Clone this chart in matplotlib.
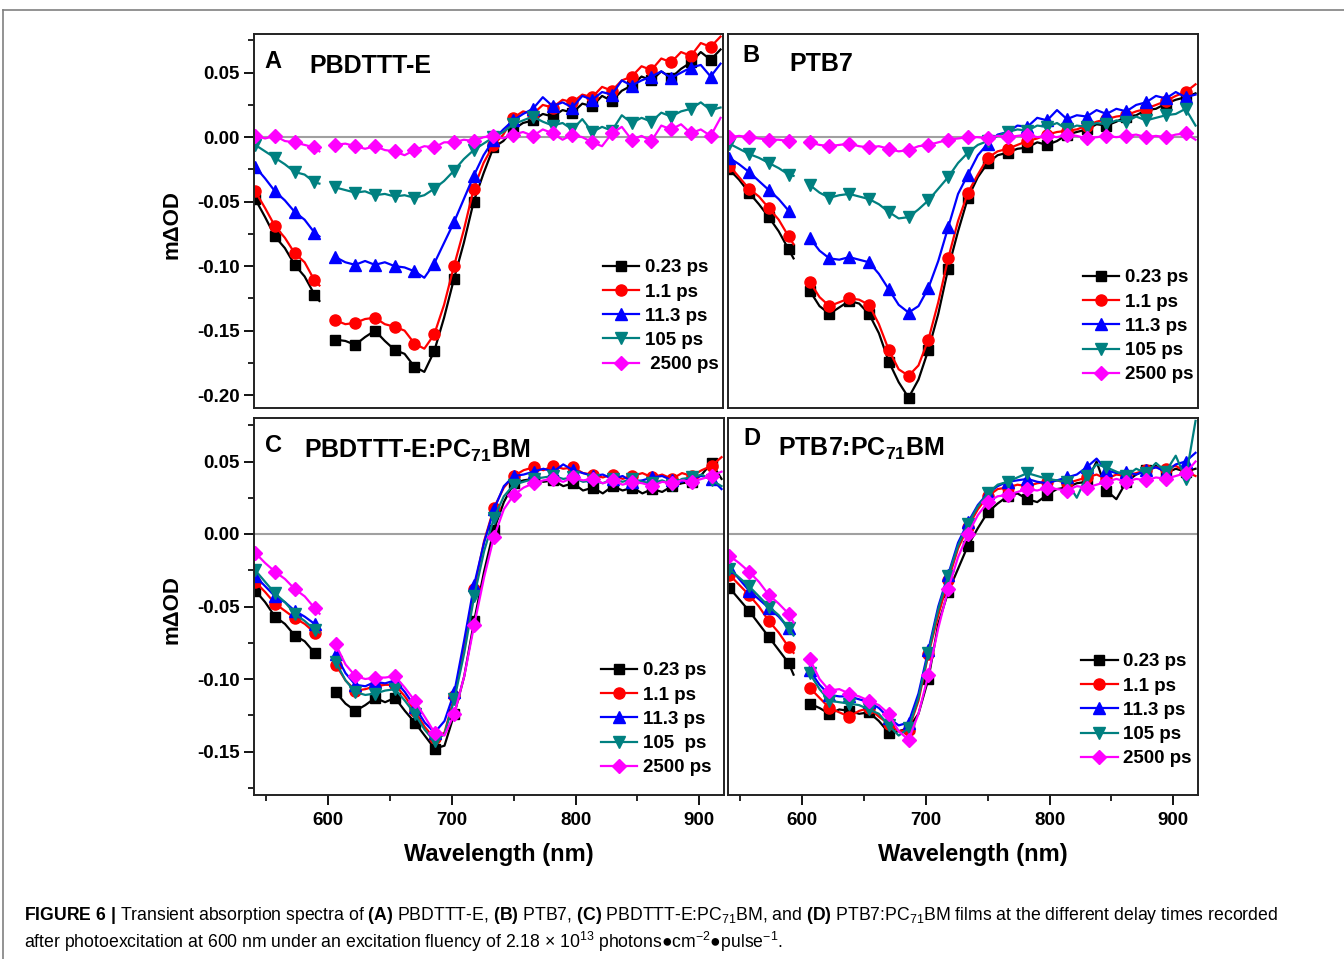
import matplotlib.pyplot as plt
from matplotlib.lines import Line2D
from matplotlib.ticker import MultipleLocator, FormatStrFormatter

plt.rcParams['font.family'] = ['Liberation Sans', 'DejaVu Sans']
plt.rcParams['font.weight'] = 'bold'
plt.rcParams['axes.unicode_minus'] = False
plt.rcParams['mathtext.fontset'] = 'custom'
plt.rcParams['mathtext.rm'] = 'Liberation Sans:regular'
plt.rcParams['mathtext.it'] = 'Liberation Sans:italic:regular'
plt.rcParams['mathtext.bf'] = 'Liberation Sans:bold'

#%% data, wavelength in nm, signal in mOD
wavelength = [541, 549, 557, 565, 573, 581, 589, 593,
              606, 614, 622, 630, 638, 646, 654, 662, 670, 678,
              686, 694, 702, 710, 718, 726, 734, 742, 750, 758,
              766, 774, 782, 790, 798, 806, 814, 822, 830, 838,
              846, 854, 862, 870, 878, 886, 894, 902, 910, 918]
n_first = 8  # points before the pump scatter gap at 600 nm

delays = ['0.23 ps', '1.1 ps', '11.3 ps', '105 ps', '2500 ps']

# (A) PBDTTT-E
a_023 = [-0.048, -0.062, -0.077, -0.086, -0.099, -0.108, -0.122, -0.127,
         -0.157, -0.158, -0.161, -0.155, -0.150, -0.158, -0.165, -0.168, -0.178, -0.182,
         -0.166, -0.140, -0.110, -0.082, -0.050, -0.028, -0.008, -0.003, 0.006, 0.011,
         0.013, 0.018, 0.016, 0.021, 0.019, 0.026, 0.024, 0.032, 0.028, 0.036,
         0.040, 0.047, 0.044, 0.051, 0.046, 0.053, 0.058, 0.066, 0.060, 0.068]
a_11 = [-0.042, -0.055, -0.069, -0.078, -0.090, -0.097, -0.111, -0.115,
        -0.142, -0.145, -0.144, -0.141, -0.140, -0.145, -0.147, -0.150, -0.160, -0.164,
        -0.153, -0.130, -0.100, -0.072, -0.040, -0.020, -0.006, 0.002, 0.015, 0.020,
        0.018, 0.025, 0.023, 0.029, 0.027, 0.033, 0.031, 0.039, 0.036, 0.044,
        0.047, 0.055, 0.052, 0.061, 0.058, 0.066, 0.063, 0.073, 0.070, 0.078]
a_113 = [-0.023, -0.032, -0.042, -0.049, -0.058, -0.064, -0.074, -0.077,
         -0.093, -0.097, -0.099, -0.096, -0.099, -0.097, -0.100, -0.101, -0.104, -0.109,
         -0.098, -0.082, -0.066, -0.048, -0.030, -0.014, -0.002, 0.006, 0.013, 0.018,
         0.022, 0.031, 0.024, 0.027, 0.023, 0.032, 0.029, 0.035, 0.033, 0.044,
         0.040, 0.044, 0.047, 0.051, 0.046, 0.050, 0.054, 0.056, 0.047, 0.057]
a_105 = [-0.006, -0.011, -0.016, -0.021, -0.027, -0.029, -0.035, -0.036,
         -0.039, -0.041, -0.043, -0.042, -0.045, -0.044, -0.046, -0.045, -0.047, -0.045,
         -0.040, -0.034, -0.026, -0.017, -0.010, -0.005, 0.000, 0.004, 0.010, 0.013,
         0.016, 0.012, 0.009, 0.011, 0.006, 0.014, 0.004, 0.008, 0.005, 0.017,
         0.011, 0.015, 0.012, 0.019, 0.016, 0.020, 0.022, 0.027, 0.021, 0.023]
a_2500 = [0.001, -0.001, 0.001, -0.003, -0.004, -0.006, -0.008, -0.011,
          -0.006, -0.005, -0.007, -0.009, -0.007, -0.010, -0.011, -0.014, -0.010, -0.007,
          -0.008, -0.004, -0.004, -0.002, -0.003, 0.000, 0.001, -0.001, 0.002, 0.004,
          0.001, 0.006, 0.003, -0.002, 0.002, 0.000, -0.004, -0.007, 0.003, 0.008,
          -0.002, 0.001, -0.003, 0.009, 0.006, 0.010, 0.003, 0.006, 0.001, 0.015]

# (B) PTB7
b_023 = [-0.025, -0.033, -0.043, -0.052, -0.062, -0.073, -0.087, -0.094,
         -0.119, -0.131, -0.137, -0.132, -0.127, -0.129, -0.137, -0.152, -0.174, -0.190,
         -0.202, -0.188, -0.165, -0.137, -0.102, -0.073, -0.047, -0.031, -0.020, -0.014,
         -0.012, -0.009, -0.008, -0.004, -0.006, -0.003, 0.002, 0.004, 0.006, 0.010,
         0.009, 0.012, 0.016, 0.017, 0.021, 0.022, 0.026, 0.029, 0.031, 0.034]
b_11 = [-0.022, -0.031, -0.040, -0.046, -0.055, -0.064, -0.077, -0.083,
        -0.112, -0.124, -0.131, -0.128, -0.125, -0.126, -0.130, -0.145, -0.165, -0.180,
        -0.185, -0.177, -0.157, -0.128, -0.094, -0.065, -0.043, -0.029, -0.016, -0.011,
        -0.009, -0.006, -0.003, -0.001, 0.002, 0.004, 0.005, 0.006, 0.009, 0.012,
        0.014, 0.016, 0.017, 0.020, 0.022, 0.025, 0.028, 0.032, 0.035, 0.041]
b_113 = [-0.016, -0.021, -0.027, -0.034, -0.041, -0.048, -0.057, -0.061,
         -0.078, -0.088, -0.094, -0.095, -0.093, -0.095, -0.097, -0.106, -0.118, -0.130,
         -0.136, -0.131, -0.117, -0.096, -0.070, -0.044, -0.029, -0.014, -0.005, 0.002,
         0.004, 0.009, 0.008, 0.015, 0.013, 0.021, 0.014, 0.017, 0.016, 0.021,
         0.018, 0.022, 0.020, 0.025, 0.027, 0.032, 0.030, 0.035, 0.031, 0.033]
b_105 = [-0.005, -0.009, -0.013, -0.016, -0.020, -0.024, -0.029, -0.030,
         -0.037, -0.043, -0.047, -0.045, -0.044, -0.046, -0.048, -0.052, -0.058, -0.063,
         -0.062, -0.056, -0.049, -0.040, -0.031, -0.020, -0.012, -0.006, -0.003, 0.001,
         0.004, 0.006, 0.005, 0.009, 0.008, 0.011, 0.006, 0.009, 0.008, 0.011,
         0.010, 0.013, 0.012, 0.016, 0.013, 0.015, 0.017, 0.018, 0.022, 0.009]
b_2500 = [0.000, 0.001, 0.000, -0.001, -0.002, -0.002, -0.003, -0.003,
          -0.004, -0.006, -0.007, -0.006, -0.005, -0.007, -0.008, -0.007, -0.009, -0.011,
          -0.010, -0.007, -0.006, -0.004, -0.002, -0.001, 0.000, 0.000, -0.001, 0.001,
          0.000, 0.001, 0.002, 0.000, 0.001, 0.000, 0.002, 0.001, -0.001, 0.000,
          0.001, 0.000, 0.001, 0.002, 0.000, 0.001, 0.000, 0.002, 0.003, -0.002]

# (C) PBDTTT-E:PC71BM
c_023 = [-0.039, -0.047, -0.057, -0.062, -0.070, -0.074, -0.082, -0.085,
         -0.109, -0.117, -0.122, -0.118, -0.113, -0.116, -0.113, -0.122, -0.130, -0.139,
         -0.148, -0.146, -0.124, -0.098, -0.060, -0.026, 0.003, 0.022, 0.035, 0.037,
         0.038, 0.036, 0.037, 0.033, 0.035, 0.030, 0.032, 0.028, 0.033, 0.030,
         0.032, 0.028, 0.031, 0.029, 0.033, 0.035, 0.036, 0.041, 0.049, 0.038]
c_11 = [-0.033, -0.040, -0.048, -0.053, -0.058, -0.062, -0.068, -0.070,
        -0.090, -0.101, -0.108, -0.107, -0.105, -0.104, -0.104, -0.112, -0.122, -0.133,
        -0.141, -0.137, -0.112, -0.078, -0.038, -0.005, 0.018, 0.032, 0.040, 0.044,
        0.046, 0.044, 0.047, 0.045, 0.046, 0.042, 0.041, 0.039, 0.041, 0.038,
        0.040, 0.042, 0.039, 0.041, 0.038, 0.042, 0.040, 0.044, 0.047, 0.053]
c_113 = [-0.029, -0.036, -0.043, -0.047, -0.053, -0.057, -0.062, -0.066,
         -0.083, -0.096, -0.104, -0.105, -0.102, -0.103, -0.101, -0.109, -0.119, -0.130,
         -0.137, -0.129, -0.109, -0.073, -0.035, -0.006, 0.017, 0.033, 0.040, 0.041,
         0.043, 0.045, 0.043, 0.048, 0.044, 0.042, 0.040, 0.041, 0.038, 0.040,
         0.036, 0.037, 0.039, 0.040, 0.037, 0.036, 0.039, 0.040, 0.038, 0.031]
c_105 = [-0.025, -0.033, -0.041, -0.047, -0.055, -0.060, -0.066, -0.068,
         -0.088, -0.101, -0.109, -0.111, -0.110, -0.108, -0.107, -0.115, -0.124, -0.135,
         -0.143, -0.138, -0.114, -0.082, -0.043, -0.012, 0.011, 0.026, 0.034, 0.036,
         0.038, 0.039, 0.040, 0.038, 0.039, 0.036, 0.037, 0.035, 0.038, 0.036,
         0.038, 0.036, 0.035, 0.037, 0.034, 0.038, 0.039, 0.041, 0.037, 0.033]
c_2500 = [-0.013, -0.020, -0.026, -0.031, -0.038, -0.043, -0.051, -0.055,
          -0.076, -0.090, -0.098, -0.100, -0.099, -0.099, -0.098, -0.106, -0.115, -0.126,
          -0.137, -0.139, -0.124, -0.098, -0.063, -0.030, -0.002, 0.017, 0.027, 0.032,
          0.035, 0.037, 0.038, 0.036, 0.039, 0.037, 0.038, 0.035, 0.037, 0.034,
          0.036, 0.035, 0.033, 0.036, 0.035, 0.037, 0.036, 0.038, 0.040, 0.043]

# (D) PTB7:PC71BM
d_023 = [-0.037, -0.045, -0.053, -0.062, -0.071, -0.080, -0.089, -0.097,
         -0.117, -0.120, -0.124, -0.121, -0.122, -0.124, -0.123, -0.129, -0.137, -0.136,
         -0.134, -0.124, -0.100, -0.062, -0.040, -0.024, -0.008, 0.004, 0.015, 0.021,
         0.026, 0.028, 0.024, 0.022, 0.027, 0.031, 0.032, 0.035, 0.036, 0.050,
         0.030, 0.024, 0.036, 0.041, 0.044, 0.047, 0.042, 0.045, 0.043, 0.045]
d_11 = [-0.028, -0.035, -0.042, -0.050, -0.060, -0.068, -0.078, -0.082,
        -0.106, -0.113, -0.120, -0.123, -0.126, -0.122, -0.120, -0.126, -0.131, -0.136,
        -0.135, -0.115, -0.083, -0.056, -0.032, -0.010, 0.005, 0.017, 0.026, 0.031,
        0.032, 0.034, 0.033, 0.035, 0.036, 0.037, 0.035, 0.037, 0.039, 0.041,
        0.038, 0.041, 0.040, 0.042, 0.044, 0.046, 0.045, 0.047, 0.043, 0.040]
d_113 = [-0.023, -0.031, -0.039, -0.045, -0.051, -0.057, -0.065, -0.069,
         -0.094, -0.104, -0.111, -0.112, -0.112, -0.114, -0.116, -0.120, -0.127, -0.132,
         -0.130, -0.110, -0.080, -0.050, -0.028, -0.006, 0.008, 0.020, 0.028, 0.033,
         0.036, 0.037, 0.038, 0.036, 0.035, 0.037, 0.039, 0.041, 0.046, 0.052,
         0.044, 0.042, 0.043, 0.041, 0.044, 0.046, 0.043, 0.048, 0.050, 0.056]
d_105 = [-0.024, -0.030, -0.036, -0.043, -0.050, -0.056, -0.065, -0.070,
         -0.096, -0.107, -0.115, -0.116, -0.117, -0.118, -0.121, -0.124, -0.132, -0.139,
         -0.134, -0.113, -0.082, -0.052, -0.029, -0.008, 0.007, 0.019, 0.028, 0.034,
         0.036, 0.039, 0.042, 0.040, 0.038, 0.037, 0.036, 0.025, 0.040, 0.048,
         0.046, 0.043, 0.040, 0.045, 0.042, 0.049, 0.043, 0.054, 0.038, 0.078]
d_2500 = [-0.015, -0.020, -0.026, -0.033, -0.042, -0.048, -0.055, -0.061,
          -0.086, -0.100, -0.108, -0.107, -0.110, -0.112, -0.115, -0.118, -0.124, -0.136,
          -0.142, -0.124, -0.097, -0.065, -0.038, -0.016, 0.000, 0.013, 0.022, 0.026,
          0.027, 0.029, 0.031, 0.030, 0.032, 0.031, 0.030, 0.033, 0.032, 0.034,
          0.036, 0.038, 0.036, 0.038, 0.037, 0.039, 0.038, 0.040, 0.042, 0.050]

#%% styling
colors = ['black', 'red', 'blue', '#008080', 'magenta']
markers = ['s', 'o', '^', 'v', 'D']
msizes = [7, 8, 8, 8, 7]

W, H = 1344, 959
fig = plt.figure(figsize=(W / 100, H / 100), dpi=100)

def px_box(left, top, right, bottom):
    return [left / W, 1 - bottom / H, (right - left) / W, (bottom - top) / H]

panels = [
    dict(box=px_box(254, 34, 723, 408), series=[a_023, a_11, a_113, a_105, a_2500],
         ylim=(-0.21, 0.08), letter='A', letter_xy=(0.023, 0.909),
         name='PBDTTT-E', name_xy=(0.119, 0.896),
         labels=['0.23 ps', '1.1 ps', '11.3 ps', '105 ps', ' 2500 ps'], leg_xy=(0.744, 0.398),
         bottom=False, left=True),
    dict(box=px_box(728, 34, 1198, 408), series=[b_023, b_11, b_113, b_105, b_2500],
         ylim=(-0.21, 0.08), letter='B', letter_xy=(0.030, 0.925),
         name='PTB7', name_xy=(0.130, 0.902),
         labels=delays, leg_xy=(0.755, 0.371), bottom=False, left=False),
    dict(box=px_box(254, 418, 724, 795), series=[c_023, c_11, c_113, c_105, c_2500],
         ylim=(-0.18, 0.08), letter='C', letter_xy=(0.023, 0.911),
         name=r'PBDTTT-E:PC$_{\mathbf{71}}$BM', name_xy=(0.106, 0.894),
         labels=['0.23 ps', '1.1 ps', '11.3 ps', '105  ps', '2500 ps'], leg_xy=(0.738, 0.352),
         bottom=True, left=True),
    dict(box=px_box(728, 418, 1198, 795), series=[d_023, d_11, d_113, d_105, d_2500],
         ylim=(-0.18, 0.08), letter='D', letter_xy=(0.032, 0.928),
         name=r'PTB7:PC$_{\mathbf{71}}$BM', name_xy=(0.106, 0.899),
         labels=delays, leg_xy=(0.751, 0.376), bottom=True, left=False),
]

for p in panels:
    ax = fig.add_axes(p['box'])
    ax.axhline(0, color='#a0a0a0', lw=1.5, zorder=1)
    for vals, c, m, ms in zip(p['series'], colors, markers, msizes):
        for sl in (slice(0, n_first), slice(n_first, None)):
            ax.plot(wavelength[sl], vals[sl], color=c, lw=1.6, marker=m, ms=ms,
                    markevery=2, zorder=2)
    handles = [Line2D([], [], color=c, marker=m, lw=1.6, ms=ms)
               for c, m, ms in zip(colors, markers, msizes)]
    ax.legend(handles, p['labels'], loc='upper left', bbox_to_anchor=p['leg_xy'],
              frameon=False, prop={'size': 13.5, 'weight': 'bold'}, handlelength=1.95,
              handletextpad=0.3, labelspacing=0.38, borderpad=0, borderaxespad=0)

    ax.set_xlim(540, 920)
    ax.set_ylim(*p['ylim'])
    ax.xaxis.set_major_locator(MultipleLocator(100))
    ax.xaxis.set_minor_locator(MultipleLocator(50))
    ax.yaxis.set_major_locator(MultipleLocator(0.05))
    ax.yaxis.set_minor_locator(MultipleLocator(0.025))
    ax.yaxis.set_major_formatter(FormatStrFormatter('%.2f'))
    ax.tick_params(which='major', direction='out', length=7, width=1.3, labelsize=13.5)
    ax.tick_params(axis='x', which='major', pad=5)
    ax.tick_params(which='minor', direction='out', length=4.5, width=1.2)
    if not p['bottom']:
        ax.tick_params(axis='x', which='both', bottom=False, labelbottom=False)
    if not p['left']:
        ax.tick_params(axis='y', which='both', left=False, labelleft=False)
    for s in ax.spines.values():
        s.set_linewidth(1.4)
        s.set_color('#222222')

    ax.text(*p['letter_xy'], p['letter'], transform=ax.transAxes, fontsize=17,
            weight='bold', va='baseline')
    ax.text(*p['name_xy'], p['name'], transform=ax.transAxes, fontsize=18,
            weight='bold', va='baseline')

# axis titles
for yc in (225, 610):
    fig.text(172 / W, 1 - yc / H, 'm\u0394OD', rotation=90, fontsize=16,
             weight='bold', ha='center', va='center')
for xc in (499, 973):
    fig.text(xc / W, 1 - 854 / H, 'Wavelength (nm)', fontsize=17,
             weight='bold', ha='center', va='center')

# page frame lines
fig.add_artist(Line2D([3 / W, 1], [1 - 10 / H, 1 - 10 / H], transform=fig.transFigure,
                      color='#808080', lw=1.2))
fig.add_artist(Line2D([3 / W, 3 / W], [0, 1 - 10 / H], transform=fig.transFigure,
                      color='#808080', lw=1.2))

# caption
line1 = (r'$\mathbf{FIGURE\ 6\ |}$ Transient absorption spectra of $\mathbf{(A)}$ PBDTTT-E, '
         r'$\mathbf{(B)}$ PTB7, $\mathbf{(C)}$ PBDTTT-E:PC$_{71}$BM, and $\mathbf{(D)}$ '
         r'PTB7:PC$_{71}$BM films at the different delay times recorded')
line2 = ('after photoexcitation at 600 nm under an excitation fluency of 2.18 \u00d7 '
         '10$^{13}$ photons\u25cfcm$^{-2}$\u25cfpulse$^{-1}$.')
fig.text(24 / W, 1 - 916 / H, line1, fontsize=12.7, weight='normal', va='center')
fig.text(24 / W, 1 - 942 / H, line2, fontsize=12.7, weight='normal', va='center')

plt.savefig('out.png', dpi=100)
plt.close()
